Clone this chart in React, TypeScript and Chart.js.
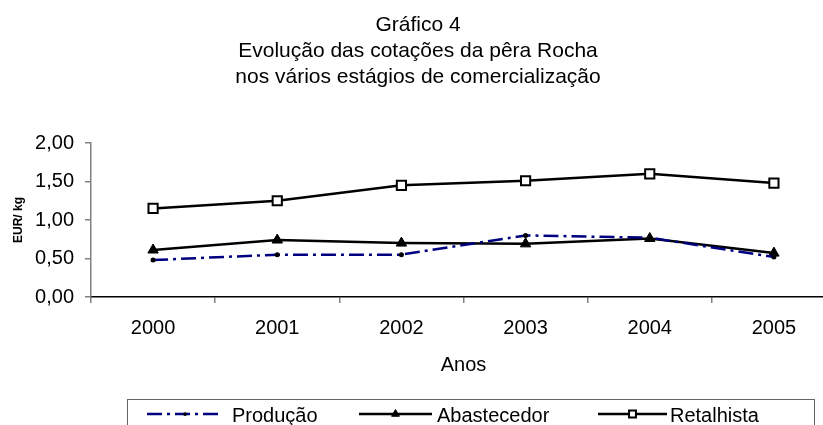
import React, { useEffect, useRef } from "react";
import { Chart, registerables } from "chart.js";

Chart.register(...registerables);

const titleLines = [
  "Gráfico 4",
  "Evolução das cotações da pêra Rocha",
  "nos vários estágios de comercialização",
];
const years = ["2000", "2001", "2002", "2003", "2004", "2005"];
const producao = [0.48, 0.55, 0.55, 0.8, 0.77, 0.52];
const abastecedor = [0.61, 0.74, 0.7, 0.69, 0.76, 0.57];
const retalhista = [1.15, 1.25, 1.45, 1.51, 1.6, 1.48];
const yTickValues = [0, 0.5, 1, 1.5, 2];
const yTitle = "EUR/ kg";
const xTitle = "Anos";

const FONT = "'Liberation Sans', Arial, sans-serif";

function drawMarker(ctx: CanvasRenderingContext2D, style: string, x: number, y: number, r: number) {
  ctx.beginPath();
  if (style === "triangle") {
    for (let k = 0; k < 3; k++) {
      const a = (k * 2 * Math.PI) / 3;
      const px = x + Math.sin(a) * r;
      const py = y - Math.cos(a) * r;
      if (k === 0) ctx.moveTo(px, py);
      else ctx.lineTo(px, py);
    }
    ctx.closePath();
    ctx.fill();
    ctx.stroke();
  } else if (style === "rect") {
    const s = r * Math.SQRT1_2;
    ctx.rect(x - s, y - s, 2 * s, 2 * s);
    ctx.fill();
    ctx.stroke();
  } else {
    ctx.arc(x, y, r, 0, Math.PI * 2);
    ctx.fill();
  }
}

const legendPlugin = {
  id: "customLegend",
  afterDraw(chart: any) {
    const ctx = chart.ctx;
    const boxLeft = 127;
    const boxRight = 814;
    const boxTop = 399.5;
    ctx.save();
    ctx.strokeStyle = "#666";
    ctx.lineWidth = 1;
    ctx.strokeRect(boxLeft + 0.5, boxTop, boxRight - boxLeft, 60);
    const cy = 414;
    const items = [
      { x0: 147, x1: 223, tx: 232 },
      { x0: 359, x1: 432, tx: 437 },
      { x0: 598, x1: 667, tx: 670 },
    ];
    chart.data.datasets.forEach((ds: any, i: number) => {
      const it = items[i];
      ctx.save();
      ctx.strokeStyle = ds.borderColor;
      ctx.lineWidth = ds.borderWidth;
      ctx.setLineDash(ds.borderDash || []);
      ctx.beginPath();
      ctx.moveTo(it.x0, cy);
      ctx.lineTo(it.x1, cy);
      ctx.stroke();
      ctx.restore();
      const mx = (it.x0 + it.x1) / 2;
      ctx.save();
      ctx.fillStyle = ds.pointBackgroundColor;
      ctx.strokeStyle = ds.pointBorderColor;
      ctx.lineWidth = ds.pointBorderWidth;
      drawMarker(ctx, ds.pointStyle, mx, cy, ds.pointRadius * 0.75);
      ctx.restore();
      ctx.fillStyle = "#000";
      ctx.font = `20px ${FONT}`;
      ctx.textBaseline = "alphabetic";
      ctx.textAlign = "left";
      ctx.fillText(ds.label, it.tx, cy + 7.5);
    });
    ctx.restore();
  },
};

export default function App() {
  const ref = useRef<HTMLCanvasElement | null>(null);
  useEffect(() => {
    document.body.style.overflow = "hidden";
    const canvas = ref.current!;
    const chart = new Chart(canvas, {
      type: "line",
      data: {
        labels: years,
        datasets: [
          {
            label: "Produção",
            data: producao,
            borderColor: "#000080",
            borderWidth: 2.5,
            borderDash: [15, 5, 3, 5],
            pointStyle: "circle",
            pointRadius: 2.5,
            pointBackgroundColor: "#000",
            pointBorderColor: "#000",
            pointBorderWidth: 0,
            tension: 0,
          },
          {
            label: "Abastecedor",
            data: abastecedor,
            borderColor: "#000",
            borderWidth: 2.5,
            pointStyle: "triangle",
            pointRadius: 6,
            pointBackgroundColor: "#000",
            pointBorderColor: "#000",
            pointBorderWidth: 1,
            tension: 0,
          },
          {
            label: "Retalhista",
            data: retalhista,
            borderColor: "#000",
            borderWidth: 2.5,
            pointStyle: "rect",
            pointRadius: 6.5,
            pointBackgroundColor: "#fff",
            pointBorderColor: "#000",
            pointBorderWidth: 2,
            tension: 0,
          },
        ],
      },
      options: {
        responsive: false,
        animation: false,
        events: [],
        layout: { padding: { left: 0, right: 29, top: 0, bottom: 43 } },
        plugins: {
          legend: { display: false },
          tooltip: { enabled: false },
          title: {
            display: true,
            text: titleLines,
            color: "#000",
            font: { family: FONT, size: 21, weight: "normal", lineHeight: 26 / 21 },
            padding: { top: 12, bottom: 53 },
          },
        },
        scales: {
          x: {
            type: "category",
            offset: true,
            afterFit: (s: any) => {
              s.height = 85;
            },
            grid: {
              offset: true,
              drawOnChartArea: false,
              drawTicks: true,
              tickLength: 6,
              color: "#808080",
              lineWidth: 1.5,
            },
            border: { color: "#000", width: 1.5 },
            ticks: {
              color: "#000",
              font: { family: FONT, size: 20 },
              padding: 13,
              maxRotation: 0,
            },
            title: {
              display: true,
              text: xTitle,
              color: "#000",
              font: { family: FONT, size: 20 },
              padding: { top: 0, bottom: 5 },
            },
          },
          y: {
            min: 0,
            max: 2,
            afterFit: (s: any) => {
              s.width = 91;
            },
            afterBuildTicks: (s: any) => {
              s.ticks = yTickValues.map((v) => ({ value: v }));
            },
            grid: {
              drawOnChartArea: false,
              drawTicks: true,
              tickLength: 6,
              color: "#808080",
              lineWidth: 1.5,
            },
            border: { color: "#808080", width: 1.5 },
            ticks: {
              color: "#000",
              font: { family: FONT, size: 20 },
              padding: 11,
              callback: (v: any) => Number(v).toFixed(2).replace(".", ","),
            },
            title: {
              display: true,
              text: yTitle,
              color: "#000",
              font: { family: FONT, size: 12, weight: "bold" },
              padding: { top: 11, bottom: 0 },
            },
          },
        },
      },
      plugins: [legendPlugin],
    });
    return () => chart.destroy();
  }, []);
  return (
    <div style={{ position: "fixed", left: 0, top: 0, width: 865, height: 425, background: "#fff" }}>
      <canvas ref={ref} width={865} height={425} style={{ display: "block" }} />
    </div>
  );
}
